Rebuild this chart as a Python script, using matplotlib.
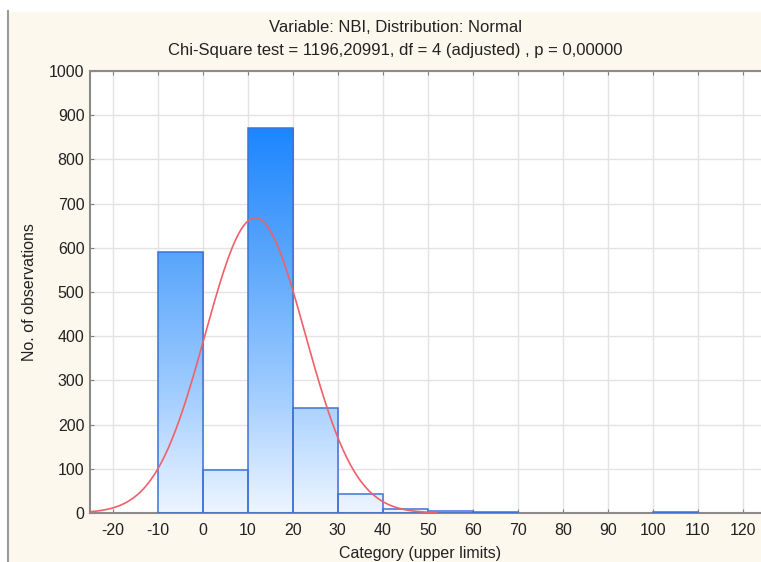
import numpy as np
import matplotlib
matplotlib.use("Agg")
import matplotlib.pyplot as plt
from matplotlib.colors import LinearSegmentedColormap
from matplotlib.patches import Rectangle
from matplotlib.lines import Line2D

plt.rcParams['font.family'] = ['Liberation Sans', 'DejaVu Sans']
plt.rcParams['axes.unicode_minus'] = False

# Data
bin_edges = [-20, -10, 0, 10, 20, 30, 40, 50, 60, 70, 80, 90, 100, 110, 120]
counts = [0, 590, 97, 870, 238, 43, 10, 5, 2, 0, 0, 0, 3, 0]
fit_mean = 11.7
fit_sd = 11.1
curve_range = (-25, 52)
x_ticks = list(range(-20, 121, 10))
y_ticks = list(range(0, 1001, 100))
title1 = "Variable: NBI, Distribution: Normal"
title2 = "Chi-Square test = 1196,20991, df = 4 (adjusted) , p = 0,00000"

fig = plt.figure(figsize=(7.61, 5.62), dpi=100)
fig.patch.set_facecolor('#fdf8ed')
# white margins top/left and border line
fig.add_artist(Rectangle((0, 1 - 11/562), 1, 11/562, transform=fig.transFigure, color='white', zorder=0))
fig.add_artist(Rectangle((0, 0), 7/761, 1, transform=fig.transFigure, color='white', zorder=0))
fig.add_artist(Line2D([7.5/761, 7.5/761], [0, 1 - 11/562], transform=fig.transFigure, color='#9a9a9a', lw=1.5))

ax = fig.add_axes([90/761, 49/562, 1 - 90/761, (513 - 71)/562])
ax.set_facecolor('white')

ax.set_xticks(x_ticks)
ax.set_yticks(y_ticks)
ax.grid(True, color='#e3e3e3', lw=1.0)
ax.set_axisbelow(True)
ax.tick_params(direction='in', length=3, color='#808080', labelsize=11.5, labelcolor='#222222', top=True)
ax.tick_params(axis='x', pad=7)
ax.tick_params(axis='y', pad=4)

for s in ['left', 'bottom', 'top']:
    ax.spines[s].set_color('#8a8a8a')
    ax.spines[s].set_linewidth(1.5)
ax.spines['right'].set_visible(False)

cmap = LinearSegmentedColormap.from_list('g', ['#edf5ff', '#9ccaff', '#5aa6fb', '#1c86ff'])
ymax = max(counts)
grad = np.linspace(0, 1, 256).reshape(-1, 1)

widths = np.diff(bin_edges)
for left, w, c in zip(bin_edges[:-1], widths, counts):
    if c <= 0:
        continue
    rect = Rectangle((left, 0), w, c, facecolor='none', edgecolor='#3f72d6', lw=1.1, zorder=3)
    ax.add_patch(rect)
    im = ax.imshow(grad, extent=[left, left + w, 0, ymax], origin='lower', cmap=cmap,
                   aspect='auto', zorder=2, interpolation='bilinear')
    im.set_clip_path(rect)

n_total = sum(counts)
bw = 10
xs = np.linspace(curve_range[0], curve_range[1], 400)
ys = n_total * bw / (fit_sd * np.sqrt(2 * np.pi)) * np.exp(-0.5 * ((xs - fit_mean) / fit_sd) ** 2)
ax.plot(xs, ys, color='#f0606a', lw=1.2, zorder=4, clip_on=False)

ax.set_xlim(-25, 124)
ax.set_ylim(0, 1000)

ax.set_ylabel("No. of observations", fontsize=11.5, color='#222222', labelpad=14)
ax.yaxis.set_label_coords(-(90 - 37) / 671, 0.5)
fig.text(420/761, 1/562, "Category (upper limits)", ha='center', va='bottom', fontsize=11.5, color='#222222')

fig.text(0.5 + 15/761, 1 - 27/562, title1, ha='center', va='center', fontsize=12, color='#222222')
fig.text(0.5 + 15/761, 1 - 50/562, title2, ha='center', va='center', fontsize=12, color='#222222')

fig.savefig("out.png", dpi=100, facecolor=fig.get_facecolor())
